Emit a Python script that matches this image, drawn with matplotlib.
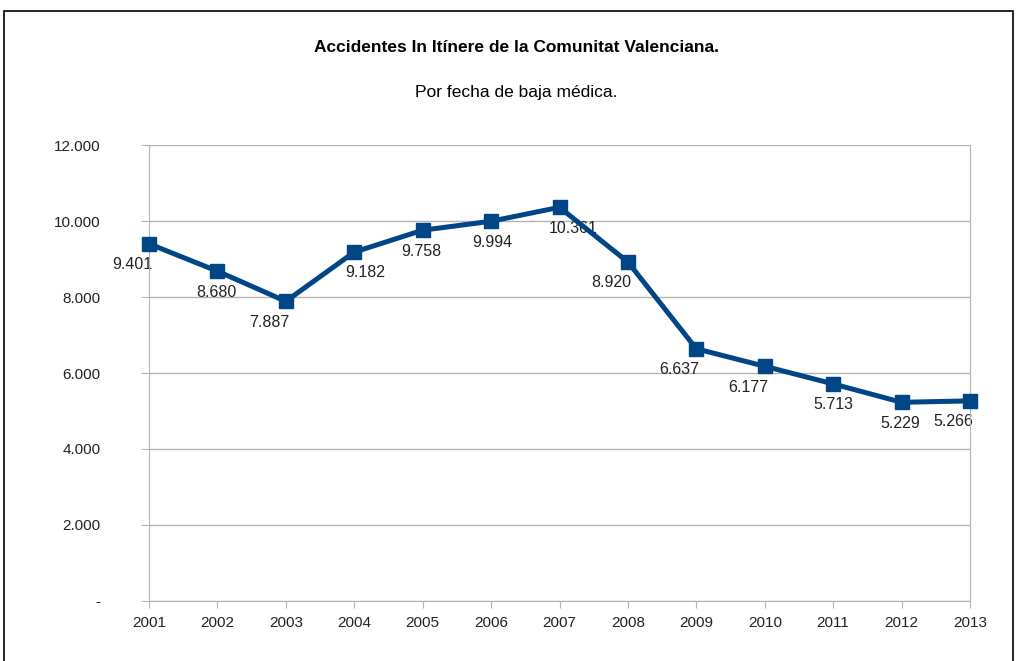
import numpy as np
import matplotlib.pyplot as plt
from matplotlib.patches import Rectangle

plt.rcParams['font.family'] = ['Liberation Sans', 'DejaVu Sans']

# Datos
anyos = [2001, 2002, 2003, 2004, 2005, 2006, 2007, 2008, 2009, 2010, 2011, 2012, 2013]
accidentes = [9401, 8680, 7887, 9182, 9758, 9994, 10361, 8920, 6637, 6177, 5713, 5229, 5266]
etiquetas = ['9.401', '8.680', '7.887', '9.182', '9.758', '9.994', '10.361',
             '8.920', '6.637', '6.177', '5.713', '5.229', '5.266']
y_ticks = [0, 2000, 4000, 6000, 8000, 10000, 12000]
y_tick_labels = ['-', '2.000', '4.000', '6.000', '8.000', '10.000', '12.000']

# desplazamiento horizontal de las etiquetas (puntos)
dx = [-12, -1, -12, 8, -1, 1, 10, -12, -12, -12, 0, -1, -12]

fig = plt.figure(figsize=(10.17, 6.61), dpi=100)
ax = fig.add_axes([0.1465, 0.0908, 0.8073, 0.6898])

color = '#004586'
ax.plot(anyos, accidentes, color=color, lw=3.6, marker='s', markersize=9.5,
        solid_joinstyle='miter', clip_on=False, zorder=3)

# etiquetas por debajo de la linea
for x, y, t, d in zip(anyos, accidentes, etiquetas, dx):
    ax.annotate(t, (x, y), xytext=(d, -15), textcoords='offset points',
                ha='center', va='center', fontsize=11.5, color='#222222', zorder=2)

ax.set_xlim(2001, 2013)
ax.set_ylim(0, 12000)
ax.set_xticks(anyos)
ax.set_xticklabels([str(a) for a in anyos])
ax.set_yticks(y_ticks)
ax.set_yticklabels(y_tick_labels)
ax.grid(axis='y', color='#b3b3b3', lw=1)
ax.set_axisbelow(True)

for s in ['left', 'bottom', 'right']:
    ax.spines[s].set_color('#b3b3b3')
ax.spines['top'].set_visible(False)
ax.tick_params(axis='y', length=6, color='#b3b3b3', pad=29, labelsize=11, labelcolor='#222222')
ax.tick_params(axis='x', length=5, color='#b3b3b3', pad=6, labelsize=11, labelcolor='#222222')

fig.text(0.508, 1 - 47 / 661, 'Accidentes In Itínere de la Comunitat Valenciana.',
         ha='center', va='center', fontsize=12.5, fontweight='bold')
fig.text(0.508, 1 - 93 / 661, 'Por fecha de baja médica.',
         ha='center', va='center', fontsize=12.5)

# marco
fig.add_artist(Rectangle((4 / 1017, -0.01), 1009 / 1017, 1 - 11 / 661 + 0.01,
                         transform=fig.transFigure, fill=False, edgecolor='black', lw=1.2))

plt.savefig('out.png', dpi=100)
